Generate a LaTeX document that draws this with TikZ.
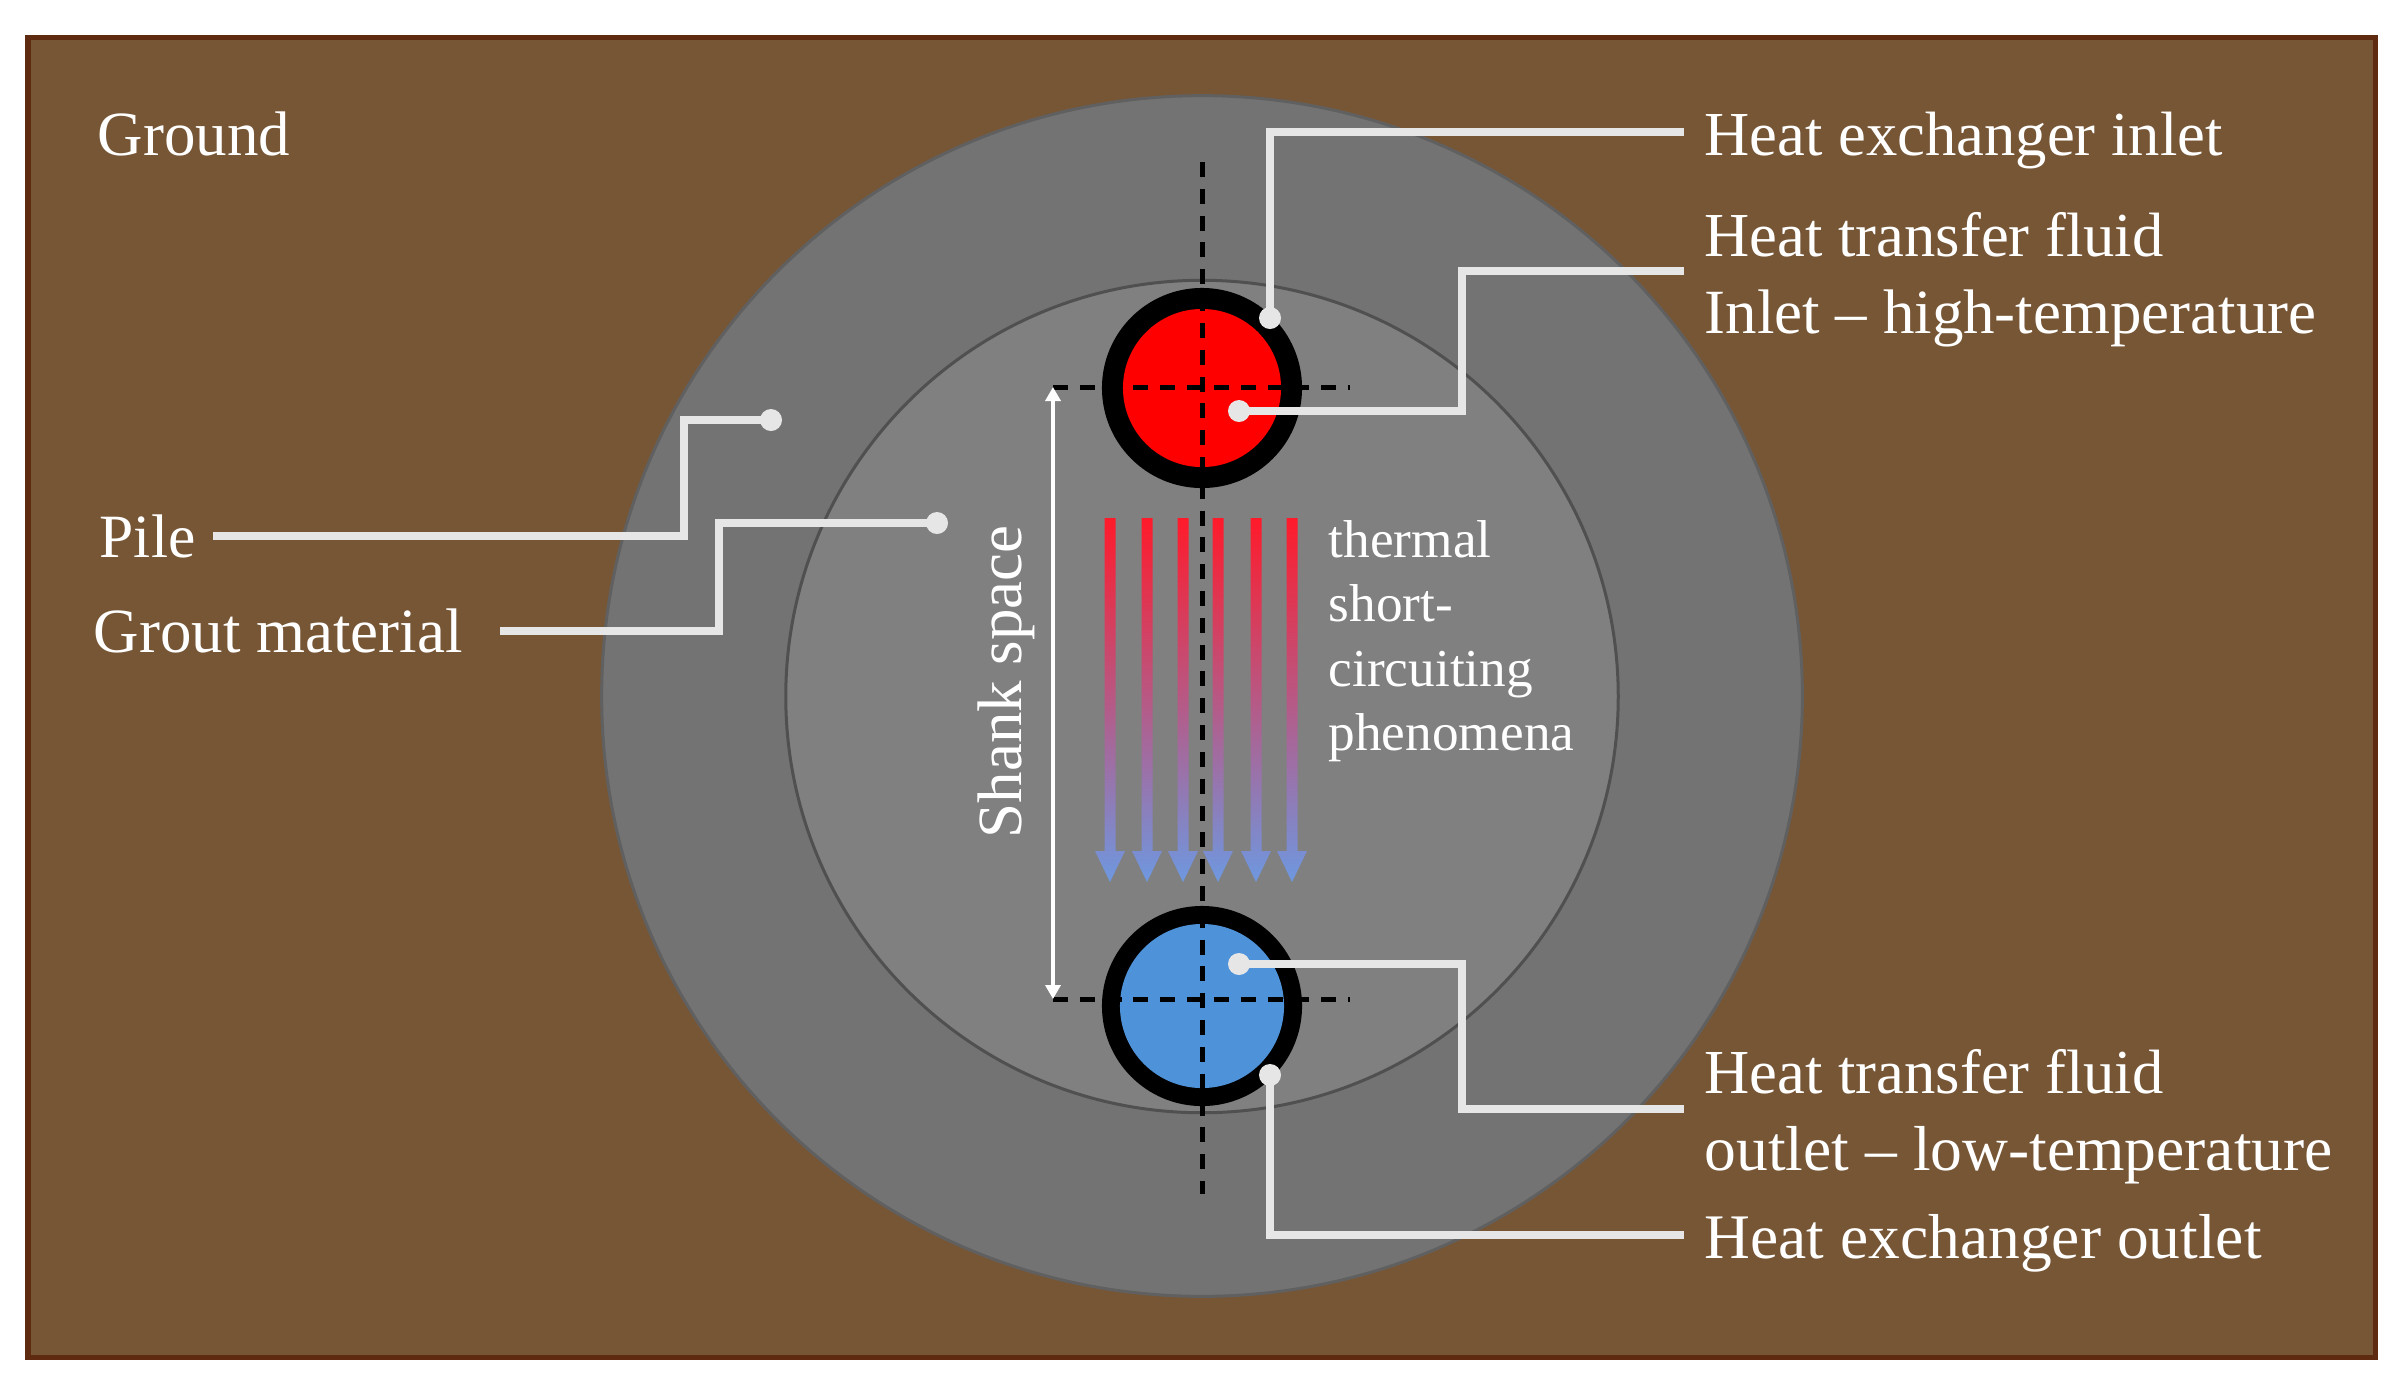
\documentclass[tikz,border=0pt]{standalone}
\usepackage{fontspec}
\setmainfont{Liberation Serif}
\usetikzlibrary{arrows.meta}
\definecolor{ground}{HTML}{775636}
\definecolor{groundedge}{HTML}{5E2A10}
\definecolor{pilefill}{HTML}{737373}
\definecolor{groutfill}{HTML}{808080}
\definecolor{ringedge}{HTML}{505050}
\definecolor{outeredge}{HTML}{606060}
\definecolor{leadcol}{HTML}{E6E6E6}
\definecolor{coldfluid}{HTML}{4E92DA}
\definecolor{hotfluid}{HTML}{FF0000}
\definecolor{fluxtop}{HTML}{FF1A2A}
\definecolor{fluxbot}{HTML}{6E98E0}
\tikzset{
  x=0.01cm,y=-0.01cm,
  lbl/.style={anchor=base west,inner sep=0pt,text=white,font=\fontsize{17.9pt}{20pt}\selectfont},
  smalllbl/.style={anchor=base west,inner sep=0pt,text=white,font=\fontsize{15.15pt}{18pt}\selectfont},
  lead/.style={draw=leadcol,line width=0.075cm},
  leaddot/.style={circle,fill=leadcol,inner sep=0pt,minimum size=0.22cm},
  axisline/.style={draw=black,line width=0.05cm,dash pattern=on 0.15cm off 0.118cm},
  pipewall/.style={fill=black},
  flux/.style={top color=fluxtop,bottom color=fluxbot,draw=none},
}
\newcommand{\fluxarrow}[1]{%
  \shade[flux] (#1-5.5,518) -- (#1+5.5,518) -- (#1+5.5,851) -- (#1+15,851) -- (#1,882) -- (#1-15,851) -- (#1-5.5,851) -- cycle;}
\begin{document}
\begin{tikzpicture}
\useasboundingbox (0,0) rectangle (2400,1390);
\fill[white] (0,0) rectangle (2400,1390);
\draw[fill=ground,draw=groundedge,line width=0.05cm] (28,37) rectangle (2375,1357);
\node[circle,fill=pilefill,draw=outeredge,line width=0.03cm,minimum size=12cm,inner sep=0pt] (pile) at (1202,696) {};
\node[circle,fill=groutfill,draw=ringedge,line width=0.03cm,minimum size=8.32cm,inner sep=0pt] (grout) at (1202,696.5) {};
\node[circle,pipewall,minimum size=2cm,inner sep=0pt] (hotwall) at (1202,388) {};
\node[circle,fill=hotfluid,minimum size=1.58cm,inner sep=0pt] (hot) at (1202,388) {};
\node[circle,pipewall,minimum size=2cm,inner sep=0pt] (coldwall) at (1202,1006) {};
\node[circle,fill=coldfluid,minimum size=1.64cm,inner sep=0pt] (cold) at (1202,1006) {};
% centre lines
\coordinate (vtop) at (1202,162);
\coordinate (vbot) at (1202,1194);
\coordinate (htl) at (1053,387);
\coordinate (htr) at (1350,387);
\coordinate (hbl) at (1053,999);
\coordinate (hbr) at (1350,999);
\draw[axisline] (vtop) -- (vbot);
\draw[axisline] (htl) -- (htr);
\draw[axisline] (hbl) -- (hbr);
% shank space
\draw[white,line width=0.035cm,{Triangle[width=0.15cm,length=0.14cm]}-{Triangle[width=0.15cm,length=0.14cm]}] (htl) -- (hbl);
\node[lbl,rotate=90] (shank) at (1021,839) {Shank space};
% flux arrows
\fluxarrow{1110}\fluxarrow{1147}\fluxarrow{1183}\fluxarrow{1218}\fluxarrow{1256}\fluxarrow{1292}
% labels
\node[lbl] (groundlbl) at (97,155) {Ground};
\node[lbl,font=\fontsize{17.8pt}{20pt}\selectfont] (inletlbl) at (1704,155) {Heat exchanger inlet};
\node[lbl,font=\fontsize{17.8pt}{20pt}\selectfont] (hotlbla) at (1704,256) {Heat transfer fluid};
\node[lbl] (hotlblb) at (1704,333) {Inlet – high-temperature};
\node[lbl,font=\fontsize{17.8pt}{20pt}\selectfont] (coldlbla) at (1704,1093) {Heat transfer fluid};
\node[lbl,font=\fontsize{18.07pt}{20pt}\selectfont] (coldlblb) at (1704,1170) {outlet – low-temperature};
\node[lbl,font=\fontsize{18.05pt}{20pt}\selectfont] (outletlbl) at (1704,1258) {Heat exchanger outlet};
\node[lbl,font=\fontsize{17.5pt}{20pt}\selectfont] (pilelbl) at (99,557) {Pile};
\node[lbl] (groutlbl) at (93,652) {Grout material};
\node[smalllbl] (tha) at (1328,557) {thermal};
\node[smalllbl] (thb) at (1328,621) {short-};
\node[smalllbl] (thc) at (1328,686) {circuiting};
\node[smalllbl] (thd) at (1328,750) {phenomena};
% leader dots
\node[leaddot] (d1) at (1270,318) {};
\node[leaddot] (d2) at (1239,411) {};
\node[leaddot] (d3) at (771,420) {};
\node[leaddot] (d4) at (937,523) {};
\node[leaddot] (d5) at (1239,964) {};
\node[leaddot] (d6) at (1270,1075) {};
\coordinate (e1) at (1684,132);
\coordinate (e2) at (1684,271);
\coordinate (e3) at (213,536);
\coordinate (e4) at (500,631);
\coordinate (e5) at (1684,1109);
\coordinate (e6) at (1684,1235);
\draw[lead] (e1) -| (d1.center);
\draw[lead] (e2) -- (1462,271) -- (1462,411) -- (d2.center);
\draw[lead] (e3) -- (684,536) -- (684,420) -- (d3.center);
\draw[lead] (e4) -- (719,631) -- (719,523) -- (d4.center);
\draw[lead] (d5.center) -- (1462,964) -- (1462,1109) -- (e5);
\draw[lead] (d6.center) |- (e6);
\end{tikzpicture}
\end{document}
